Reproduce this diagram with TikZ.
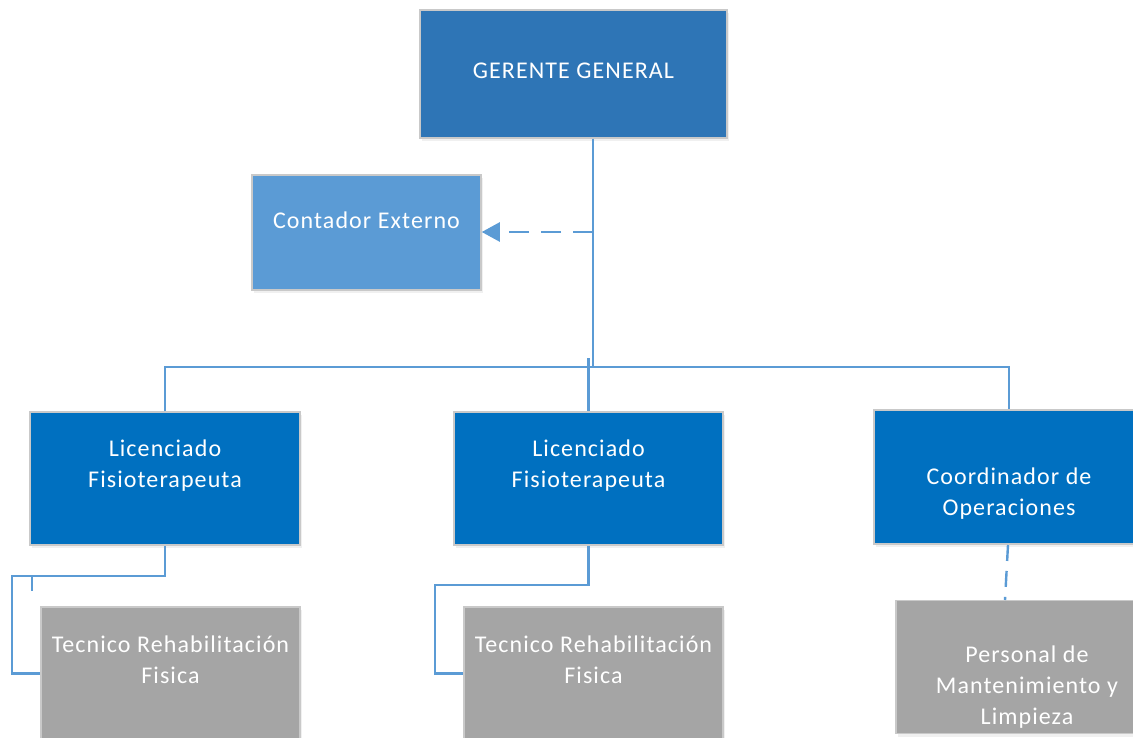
\documentclass[tikz,border=0pt]{standalone}
\usepackage{fontspec}
\setmainfont{Carlito}[LetterSpace=4.5]
\usetikzlibrary{arrows.meta,shadows}
\definecolor{cGer}{HTML}{2E75B6}
\definecolor{cCont}{HTML}{5B9BD5}
\definecolor{cLic}{HTML}{0070C0}
\definecolor{cGray}{HTML}{A5A5A5}
\definecolor{cLine}{HTML}{5B9BD5}
\definecolor{cBorder}{HTML}{C9C9C9}
\tikzset{
  box/.style={draw=cBorder, line width=1.5pt, inner sep=0pt, text=white,
    drop shadow={shadow xshift=2pt, shadow yshift=-3pt, opacity=0.12, fill=gray}},
  txt/.style={text=white, align=center, font=\fontsize{24}{31}\selectfont},
  conn/.style={draw=cLine, line width=2.4pt},
  dashconn/.style={conn, dash pattern=on 20pt off 12pt},
}
\begin{document}
\begin{tikzpicture}[x=1pt,y=-1pt]
\useasboundingbox (0,0) rectangle (1133,738);
% boxes
\node[box, fill=cGer, minimum width=307pt, minimum height=128pt,
  label={[txt, yshift=3pt]center:GERENTE GENERAL}] (ger) at (573.5,74) {};
\node[box, fill=cCont, minimum width=229pt, minimum height=115pt,
  label={[txt, yshift=12pt]center:Contador Externo}] (cont) at (366.5,232.5) {};
\node[box, fill=cLic, minimum width=270pt, minimum height=133pt,
  label={[txt, yshift=13pt]center:Licenciado\\Fisioterapeuta}] (lic1) at (165,478.5) {};
\node[box, fill=cLic, minimum width=269pt, minimum height=133pt,
  label={[txt, yshift=13pt]center:Licenciado\\Fisioterapeuta}] (lic2) at (588.5,478.5) {};
\node[box, fill=cLic, minimum width=270pt, minimum height=134pt,
  label={[txt, yshift=-17pt]center:Coordinador de\\Operaciones}] (coord) at (1009,477) {};
\node[box, fill=cGray, minimum width=259pt, minimum height=133pt,
  label={[txt, yshift=14pt]center:Tecnico Rehabilitación\\Fisica}] (tec1) at (170.5,673.5) {};
\node[box, fill=cGray, minimum width=259pt, minimum height=133pt,
  label={[txt, yshift=14pt]center:Tecnico Rehabilitación\\Fisica}] (tec2) at (593.5,673.5) {};
\node[box, fill=cGray, minimum width=262pt, minimum height=133pt,
  label={[txt, yshift=-20pt]center:Personal de\\Mantenimiento y\\Limpieza}] (pers) at (1027,667) {};
% junction coordinates
\coordinate (jc) at (593,232);
\coordinate (jh) at (593,367);
\coordinate (jm) at (588.5,358);
\coordinate (k1) at (12,576);
\coordinate (t1a) at (32,576);
\coordinate (t1b) at (32,591);
\coordinate (k2) at (435,585);
\coordinate (p1) at (1005,600);
\coordinate (p0) at (1008,545);
% connectors
\draw[conn] (ger.south -| jh) -- (jh);
\draw[dashconn, -{Triangle[length=18pt,width=19pt]}] (jc) -- (cont.east |- jc);
\draw[conn] (lic1.north) -- (lic1.north |- jh) -- (coord.north |- jh) -- (coord.north);
\draw[conn] (jm) -- (lic2.north);
\draw[conn] (lic1.south) |- (k1) |- (tec1.west);
\draw[conn] (t1a) -- (t1b);
\draw[conn] (lic2.south) |- (k2) |- (tec2.west);
\draw[conn, dash pattern=on 16pt off 10pt] (p0) -- (p1);
\end{tikzpicture}
\end{document}
